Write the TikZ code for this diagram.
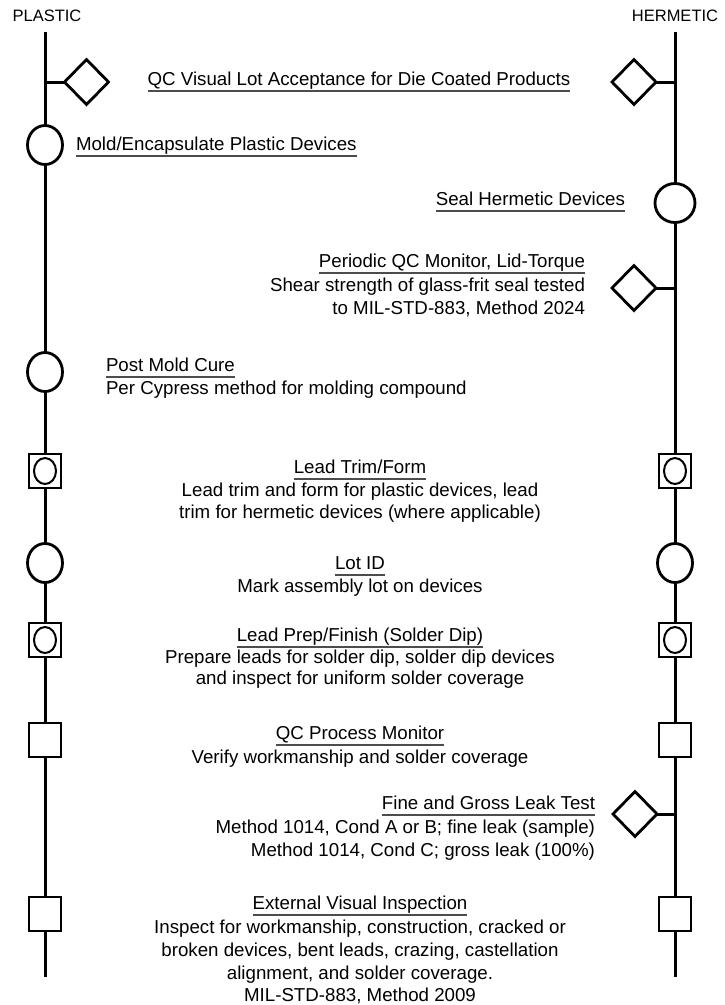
\documentclass[tikz,border=0pt]{standalone}
\usepackage{fontspec}
\setmainfont{Liberation Sans}
\usetikzlibrary{shapes.geometric}
\newcommand\ttl[1]{\setbox0\hbox{#1}\rlap{\color{black!70}\rule[-6.5pt]{\wd0}{1.1pt}}\box0}
\begin{document}
\begin{tikzpicture}[x=1pt,y=-1pt,
  every node/.style={inner sep=0pt, outer sep=0pt},
  lbl/.style={font=\fontsize{18.7}{23}\selectfont, anchor=base},
  lbll/.style={lbl, anchor=base west},
  lblr/.style={lbl, anchor=base east},
  hdr/.style={font=\fontsize{16.5}{20}\selectfont, anchor=base},
  railln/.style={line width=3pt},
  opcirc/.style={ellipse, draw, line width=2.8pt, minimum width=35pt, minimum height=39pt},
  inspdia/.style={diamond, draw, line width=2.8pt, minimum width=44pt, minimum height=45pt},
  qbox/.style={rectangle, draw, line width=2.6pt, minimum width=32pt, minimum height=34pt},
  qin/.style={ellipse, draw, line width=2pt, minimum width=22pt, minimum height=26pt}]
\useasboundingbox (0,0) rectangle (725,1005);

% headers
\node[hdr] (plastic) at (47,21) {PLASTIC};
\node[hdr] (hermetic) at (675,21) {HERMETIC};

% rail end points
\coordinate (ltop) at (45,32);
\coordinate (lbot) at (45,977);
\coordinate (rtop) at (675,32);
\coordinate (rbot) at (675,977);

% row 1
\coordinate (lq1) at (45,82);
\coordinate (rq1) at (675,82);
\node[inspdia] (ld1) at (86.5,82) {};
\node[inspdia] (rd1) at (634,82) {};
\node[lbl] (t1) at (359,85) {\ttl{QC Visual Lot Acceptance for Die Coated Products}};

% row 2
\node[opcirc] (mold) at (45,145) {};
\node[lbll] (t2) at (76,150) {\ttl{Mold/Encapsulate Plastic Devices}};

% row 3
\node[opcirc, minimum width=40pt] (seal) at (675,203) {};
\node[lblr] (t3) at (625,205) {\ttl{Seal Hermetic Devices}};

% row 4
\coordinate (rq4) at (675,288);
\node[inspdia] (rd4) at (634,288) {};
\node[lblr] (t4) at (585,267) {\ttl{Periodic QC Monitor, Lid-Torque}};
\node[lblr] (d4a) at (585,291) {Shear strength of glass-frit seal tested};
\node[lblr] (d4b) at (585,314) {to MIL-STD-883, Method 2024};

% row 5
\node[opcirc] (postc) at (45,372) {};
\node[lbll] (t5) at (106,371) {\ttl{Post Mold Cure}};
\node[lbll] (d5a) at (106,394) {Per Cypress method for molding compound};

% row 6
\node[qbox] (ltrim) at (45,471) {};
\node[qin] (ltrimi) at (45,471) {};
\node[qbox] (rtrim) at (675,471) {};
\node[qin] (rtrimi) at (675,471) {};
\node[lbl] (t6) at (360,473) {\ttl{Lead Trim/Form}};
\node[lbl] (d6a) at (360,496) {Lead trim and form for plastic devices, lead};
\node[lbl] (d6b) at (360,518) {trim for hermetic devices (where applicable)};

% row 7
\node[opcirc] (llot) at (45,563) {};
\node[opcirc] (rlot) at (675,563) {};
\node[lbl] (t7) at (360,569) {\ttl{Lot ID}};
\node[lbl] (d7a) at (360,592) {Mark assembly lot on devices};

% row 8
\node[qbox] (lprep) at (45,640) {};
\node[qin] (lprepi) at (45,640) {};
\node[qbox] (rprep) at (675,640) {};
\node[qin] (rprepi) at (675,640) {};
\node[lbl] (t8) at (360,641) {\ttl{Lead Prep/Finish (Solder Dip)}};
\node[lbl] (d8a) at (360,663) {Prepare leads for solder dip, solder dip devices};
\node[lbl] (d8b) at (360,684) {and inspect for uniform solder coverage};

% row 9
\node[qbox] (lqcp) at (45,740) {};
\node[qbox] (rqcp) at (675,740) {};
\node[lbl] (t9) at (360,739) {\ttl{QC Process Monitor}};
\node[lbl] (d9a) at (360,763) {Verify workmanship and solder coverage};

% row 10
\coordinate (rq10) at (675,814);
\node[inspdia] (rd10) at (635,814) {};
\node[lblr] (t10) at (595,809) {\ttl{Fine and Gross Leak Test}};
\node[lblr] (d10a) at (595,833) {Method 1014, Cond A or B; fine leak (sample)};
\node[lblr] (d10b) at (595,856) {Method 1014, Cond C; gross leak (100\%)};

% row 11
\node[qbox] (lext) at (45,914) {};
\node[qbox] (rext) at (675,914) {};
\node[lbl] (t11) at (360,909) {\ttl{External Visual Inspection}};
\node[lbl] (d11a) at (360,933) {Inspect for workmanship, construction, cracked or};
\node[lbl] (d11b) at (360,956) {broken devices, bent leads, crazing, castellation};
\node[lbl] (d11c) at (360,979) {alignment, and solder coverage.};
\node[lbl] (d11d) at (360,1001) {MIL-STD-883, Method 2009};

% rails
\draw[railln] (ltop) -- (lq1) -- (mold) -- (postc) -- (ltrim) -- (llot) -- (lprep) -- (lqcp) -- (lext) -- (lbot);
\draw[railln] (rtop) -- (rq1) -- (seal) -- (rq4) -- (rtrim) -- (rlot) -- (rprep) -- (rqcp) -- (rq10) -- (rext) -- (rbot);

% stubs
\draw[railln] (lq1) -- (ld1);
\draw[railln] (rd1) -- (rq1);
\draw[railln] (rd4) -- (rq4);
\draw[railln] (rd10) -- (rq10);
\end{tikzpicture}
\end{document}
